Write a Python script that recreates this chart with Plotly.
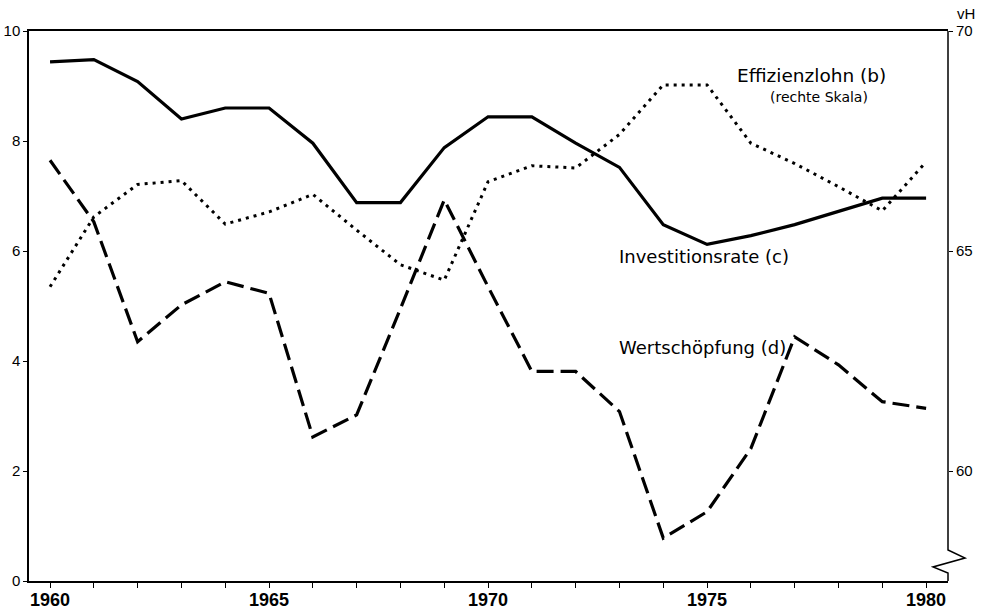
import plotly.graph_objects as go

years = list(range(1960, 1981))
x_tick_labels = ["1960" if y == 1960 else "1965" if y == 1965 else "1970" if y == 1970 else "1975" if y == 1975 else "1980" if y == 1980 else "" for y in years]

# Effizienzlohn (b), right scale (vH)
effizienzlohn = [69.3, 69.35, 68.85, 68.0, 68.25, 68.25, 67.45, 66.1, 66.1, 67.35, 68.05,
                 68.05, 67.45, 66.9, 65.6, 65.15, 65.35, 65.6, 65.9, 66.2, 66.2]
# Investitionsrate (c), left scale
investitionsrate = [5.35, 6.62, 7.21, 7.28, 6.49, 6.71, 7.03, 6.38, 5.75, 5.47, 7.26,
                    7.55, 7.51, 8.12, 9.02, 9.02, 7.96, 7.59, 7.17, 6.73, 7.62]
# Wertschöpfung (d), left scale
wertschoepfung = [7.65, 6.53, 4.35, 5.02, 5.44, 5.23, 2.62, 3.02, 4.95, 6.93, 5.35,
                  3.81, 3.81, 3.08, 0.78, 1.26, 2.41, 4.44, 3.93, 3.26, 3.14]

left_ticks = [0, 2, 4, 6, 8, 10]
right_ticks = [60, 65, 70]

FONT = "Liberation Sans Narrow, Liberation Sans, Arial"

fig = go.Figure()
fig.add_trace(go.Scatter(x=years, y=investitionsrate, mode="lines",
                         line=dict(color="black", width=3, dash="3px,5px"),
                         yaxis="y", showlegend=False))
fig.add_trace(go.Scatter(x=years, y=wertschoepfung, mode="lines",
                         line=dict(color="black", width=3.2, dash="17px,7px"),
                         yaxis="y", showlegend=False))
fig.add_trace(go.Scatter(x=years, y=effizienzlohn, mode="lines",
                         line=dict(color="black", width=3.2),
                         yaxis="y2", showlegend=False))

# right axis with break (zigzag)
pts = [(1.0, 1.0), (1.0, 0.0564), (1.0185, 0.0418), (0.9837, 0.0255), (1.0, 0.0145), (1.0, 0.0)]
path = "M " + " L ".join(f"{a},{b}" for a, b in pts)
fig.add_shape(type="path", xref="paper", yref="paper", path=path,
              line=dict(color="black", width=1.5))

ann_font = dict(family="DejaVu Sans", color="black")
fig.add_annotation(x=1975.64, y=9.2, xref="x", yref="y", text="Effizienzlohn (b)",
                   showarrow=False, xanchor="left", yanchor="middle",
                   font=dict(size=18.5, **ann_font))
fig.add_annotation(x=1976.4, y=8.8, xref="x", yref="y", text="(rechte Skala)",
                   showarrow=False, xanchor="left", yanchor="middle",
                   font=dict(size=14, **ann_font))
fig.add_annotation(x=1972.95, y=5.9, xref="x", yref="y", text="Investitionsrate (c)",
                   showarrow=False, xanchor="left", yanchor="middle",
                   font=dict(size=18, **ann_font))
fig.add_annotation(x=1972.95, y=4.25, xref="x", yref="y", text="Wertschöpfung (d)",
                   showarrow=False, xanchor="left", yanchor="middle",
                   font=dict(size=18, **ann_font))
fig.add_annotation(x=1.0196, y=1.0327, xref="paper", yref="paper", text="vH",
                   showarrow=False, xanchor="center", yanchor="middle",
                   font=dict(size=15, family=FONT, color="black"))

fig.update_layout(
    width=982, height=610,
    margin=dict(l=29, r=34, t=31, b=29, autoexpand=False),
    plot_bgcolor="white", paper_bgcolor="white",
    xaxis=dict(range=[1959.52, 1980.5], tickvals=years, ticktext=x_tick_labels,
               ticks="outside", ticklen=5, tickwidth=1.2, tickcolor="black",
               showline=True, linecolor="black", linewidth=1.5, mirror=True,
               showgrid=False, zeroline=False, automargin=False,
               ticklabelstandoff=-3,
               tickfont=dict(family=FONT, size=18, color="black", weight="bold")),
    yaxis=dict(range=[0, 10], tickvals=left_ticks, ticks="outside", ticklen=4,
               tickcolor="black", showline=True, linecolor="black", linewidth=1.5,
               showgrid=False, zeroline=False, automargin=False,
               tickfont=dict(family=FONT, size=15, color="black")),
    yaxis2=dict(range=[57.5, 70], tickvals=right_ticks, overlaying="y", side="right",
                ticks="outside", ticklen=4, tickcolor="black", showline=False,
                showgrid=False, zeroline=False, automargin=False,
                tickfont=dict(family=FONT, size=15, color="black")),
)

fig.write_html("out.html", config={"displayModeBar": False},
               post_script="document.body.style.margin='0';document.body.style.overflow='hidden';")
